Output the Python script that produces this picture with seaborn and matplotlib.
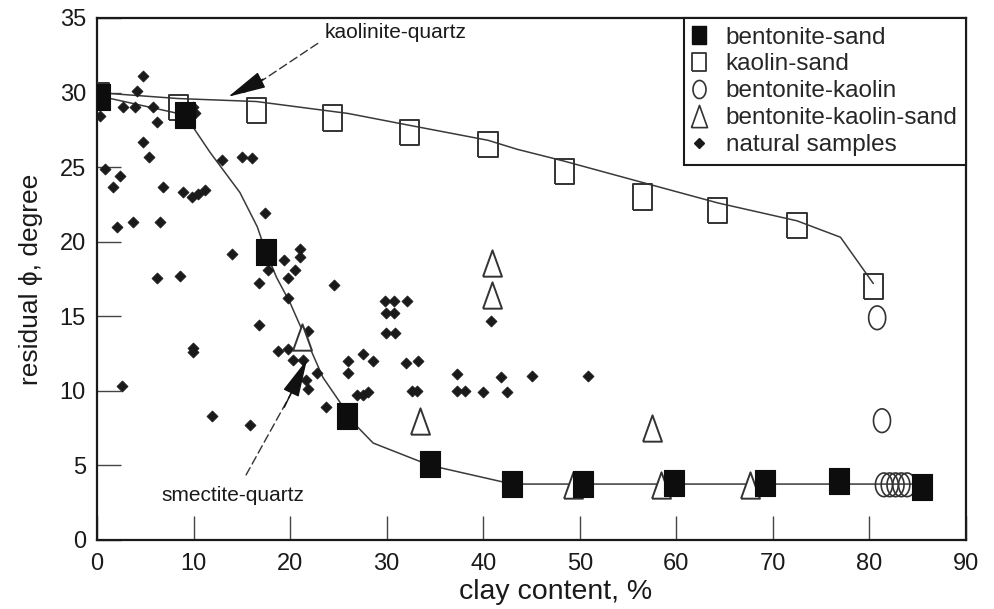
import numpy as np
import pandas as pd
import matplotlib
matplotlib.use("Agg")
import matplotlib.pyplot as plt
from matplotlib.lines import Line2D
from matplotlib.markers import MarkerStyle
import seaborn as sns

# ---------------- data ----------------
bent_sand_x = [0.3, 9.1, 17.5, 25.9, 34.5, 43.0, 50.3, 59.8, 69.2, 76.8, 85.4]
bent_sand_y = [29.7, 28.5, 19.3, 8.3, 5.1, 3.75, 3.75, 3.8, 3.8, 3.95, 3.55]

kaol_sand_x = [0.3, 8.4, 16.5, 24.4, 32.4, 40.5, 48.4, 56.5, 64.3, 72.5, 80.4]
kaol_sand_y = [29.8, 29.0, 28.8, 28.3, 27.3, 26.5, 24.7, 23.0, 22.1, 21.1, 17.0]

bent_kaol_x = [80.8, 81.3, 81.5, 82.1, 82.7, 83.3, 83.9]
bent_kaol_y = [14.9, 8.0, 3.7, 3.7, 3.7, 3.7, 3.7]

bks_x = [21.2, 33.5, 40.9, 40.9, 57.5, 49.3, 58.4, 67.6]
bks_y = [13.6, 8.0, 18.6, 16.4, 7.5, 3.7, 3.7, 3.7]

nat_x = [4.8, 4.1, 2.7, 3.9, 5.8, 6.2, 0.3, 9.9, 10.2, 4.8, 5.4, 12.9, 15.0, 16.1,
         0.8, 2.4, 1.7, 6.8, 8.9, 9.8, 10.5, 11.2, 17.4, 2.1, 3.7, 6.5,
         14.0, 6.2, 8.6, 16.8, 16.8, 9.9, 9.9, 2.6, 11.9, 15.8,
         21.0, 21.0, 19.4, 20.5, 17.7, 19.8, 24.5, 19.8, 21.9, 18.7, 19.8, 20.3,
         21.3, 22.8, 21.6, 21.9, 23.7, 27.6, 26.0, 28.6, 26.0, 26.9, 27.6, 28.1,
         29.8, 30.8, 32.1, 29.9, 30.8, 29.9, 30.9, 32.0, 33.2, 40.8, 37.3, 41.8,
         45.1, 50.9, 32.6, 33.1, 37.3, 38.1, 40.0, 42.5]
nat_y = [31.1, 30.1, 29.0, 29.0, 29.0, 28.0, 28.4, 29.0, 28.6, 26.7, 25.7, 25.5, 25.7, 25.6,
         24.9, 24.4, 23.7, 23.7, 23.3, 23.0, 23.2, 23.5, 21.9, 21.0, 21.3, 21.3,
         19.2, 17.6, 17.7, 17.2, 14.4, 12.9, 12.6, 10.3, 8.3, 7.7,
         19.5, 19.0, 18.8, 18.1, 18.1, 17.6, 17.1, 16.2, 14.0, 12.7, 12.8, 12.1,
         12.1, 11.2, 10.7, 10.1, 8.9, 12.5, 12.0, 12.0, 11.2, 9.7, 9.7, 9.9,
         16.0, 16.0, 16.0, 15.2, 15.2, 13.9, 13.9, 11.9, 12.0, 14.7, 11.1, 10.9,
         11.0, 11.0, 10.0, 10.0, 10.0, 10.0, 9.9, 9.9]

# trend lines
kaol_line_x = [0, 8.4, 16.5, 26.0, 32.4, 40.5, 43.5, 48.4, 55.2, 64.3, 72.5, 77.0, 80.4]
kaol_line_y = [30.0, 29.6, 29.4, 28.6, 27.8, 26.8, 26.2, 25.4, 24.2, 22.6, 21.4, 20.3, 17.2]
bent_line_x = [0, 9.1, 11.7, 14.8, 16.6, 17.5, 18.6, 20.0, 21.7, 23.4, 25.2, 25.9, 28.6, 34.5, 43.0, 85.4]
bent_line_y = [29.8, 28.5, 26.0, 23.3, 21.0, 19.3, 17.6, 15.9, 13.4, 10.9, 9.2, 8.3, 6.5, 5.0, 3.75, 3.75]

legend_labels = ["bentonite-sand", "kaolin-sand", "bentonite-kaolin",
                 "bentonite-kaolin-sand", "natural samples"]
x_ticks = [0, 10, 20, 30, 40, 50, 60, 70, 80, 90]
y_ticks = [0, 5, 10, 15, 20, 25, 30, 35]

# ---------------- style ----------------
sns.set_theme(style="white")
plt.rcParams["font.family"] = ["Liberation Sans", "DejaVu Sans"]

fig = plt.figure(figsize=(9.94, 6.09), dpi=100)
ax = fig.add_axes([97 / 994, 1 - 540 / 609, (966 - 97) / 994, (540 - 18) / 609])

# custom tall markers (the original figure is vertically stretched)
rect = MarkerStyle([(-0.38, -0.5), (0.38, -0.5), (0.38, 0.5), (-0.38, 0.5), (-0.38, -0.5)])
tri = MarkerStyle([(-0.36, -0.5), (0.36, -0.5), (0.0, 0.5), (-0.36, -0.5)])
th = np.linspace(0, 2 * np.pi, 61)
ell = MarkerStyle(list(zip(0.36 * np.cos(th), 0.5 * np.sin(th))))

ink = "#1a1a1a"
line_col = "#3a3a3a"

df_kl = pd.DataFrame({"x": kaol_line_x, "y": kaol_line_y})
df_bl = pd.DataFrame({"x": bent_line_x, "y": bent_line_y})
sns.lineplot(data=df_kl, x="x", y="y", sort=False, estimator=None, ax=ax,
             color=line_col, linewidth=1.1, zorder=2)
sns.lineplot(data=df_bl, x="x", y="y", sort=False, estimator=None, ax=ax,
             color=line_col, linewidth=1.1, zorder=2)

sns.scatterplot(x=nat_x, y=nat_y, ax=ax, marker="D", s=32, color=ink,
                edgecolor=ink, linewidth=0.5, zorder=3)
sns.scatterplot(x=kaol_sand_x, y=kaol_sand_y, ax=ax, marker=rect, s=330,
                facecolor="none", edgecolor="#333333", linewidth=1.4, zorder=4)
sns.scatterplot(x=bent_kaol_x, y=bent_kaol_y, ax=ax, marker=ell, s=290,
                facecolor="none", edgecolor="#333333", linewidth=1.2, zorder=4)
sns.scatterplot(x=bks_x, y=bks_y, ax=ax, marker=tri, s=360,
                facecolor="white", edgecolor="#333333", linewidth=1.4, zorder=4)
sns.scatterplot(x=bent_sand_x, y=bent_sand_y, ax=ax, marker=rect, s=340,
                color="#0d0d0d", edgecolor="#0d0d0d", linewidth=0.8, zorder=5)

ax.set_xlim(0, 90)
ax.set_ylim(0, 35)
ax.set_xticks(x_ticks)
ax.set_yticks(y_ticks)
ax.tick_params(axis="both", direction="in", length=17, width=1.0, color="#444444",
               labelsize=17, labelcolor="#1a1a1a", bottom=True, left=True,
               top=False, right=False)
ax.tick_params(axis="x", pad=9)
ax.tick_params(axis="y", pad=8)
for sp in ax.spines.values():
    sp.set_color("#1a1a1a")
    sp.set_linewidth(1.6)

ax.set_xlabel("clay content, %", fontsize=20.5, color="#1a1a1a", labelpad=5)
ax.xaxis.set_label_coords(0.528, -0.075)
ax.set_ylabel("residual \u03d5, degree", fontsize=19, color="#1a1a1a", labelpad=12)

# annotations
ax.annotate("", xy=(15.0, 29.9), xytext=(23.1, 33.4),
            arrowprops=dict(arrowstyle="-", linestyle=(0, (6, 3)), color="#333333", lw=1.0))
ax.annotate("", xy=(13.6, 29.72), xytext=(17.2, 30.9),
            arrowprops=dict(arrowstyle="-|>,head_length=2.0,head_width=0.45",
                            color="#111111", lw=1.0, shrinkA=0, shrinkB=0))
ax.text(23.6, 34.0, "kaolinite-quartz", fontsize=15, color="#1a1a1a",
        ha="left", va="center")

ax.annotate("", xy=(20.6, 10.4), xytext=(15.3, 4.2),
            arrowprops=dict(arrowstyle="-", linestyle=(0, (6, 3)), color="#333333", lw=1.0))
ax.annotate("", xy=(21.75, 12.1), xytext=(19.4, 8.9),
            arrowprops=dict(arrowstyle="-|>,head_length=2.0,head_width=0.45",
                            color="#111111", lw=1.0, shrinkA=0, shrinkB=0))
ax.text(14.1, 3.0, "smectite-quartz", fontsize=15, color="#1a1a1a",
        ha="center", va="center")

# legend
handles = [
    Line2D([], [], linestyle="none", marker=rect, markersize=13,
           markerfacecolor="#0d0d0d", markeredgecolor="#0d0d0d"),
    Line2D([], [], linestyle="none", marker=rect, markersize=13,
           markerfacecolor="none", markeredgecolor="#333333", markeredgewidth=1.3),
    Line2D([], [], linestyle="none", marker=ell, markersize=13,
           markerfacecolor="none", markeredgecolor="#333333", markeredgewidth=1.2),
    Line2D([], [], linestyle="none", marker=tri, markersize=16,
           markerfacecolor="none", markeredgecolor="#333333", markeredgewidth=1.2),
    Line2D([], [], linestyle="none", marker="D", markersize=5,
           markerfacecolor=ink, markeredgecolor=ink),
]
leg = ax.legend(handles, legend_labels, loc="upper right", bbox_to_anchor=(1, 1),
                borderaxespad=0, fontsize=17.5, frameon=True, fancybox=False,
                framealpha=1, edgecolor="#1a1a1a", handlelength=0.5,
                handletextpad=0.85, labelspacing=0.2, borderpad=0.35)
leg.get_frame().set_linewidth(1.5)

fig.savefig("out.png", dpi=100)
